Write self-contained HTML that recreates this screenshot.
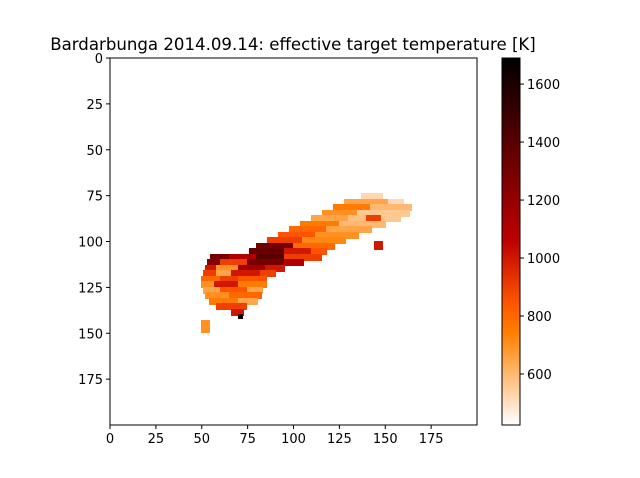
<!DOCTYPE html>
<html><head><meta charset="utf-8"><style>
body{margin:0;background:#fff}
svg{display:block;font-family:"DejaVu Sans","Liberation Sans",sans-serif}
</style></head><body>
<svg id="chart" width="640" height="478" viewBox="0 0 640 478">
<text x="293" y="50" text-anchor="middle" font-size="16.6">Bardarbunga 2014.09.14: effective target temperature [K]</text>
<g id="cells" shape-rendering="crispEdges"></g>
<rect x="110" y="58" width="367" height="367" fill="none" stroke="#000" stroke-width="1"/>
<g id="axes"></g>
<defs><linearGradient id="cbg" x1="0" y1="1" x2="0" y2="0"></linearGradient></defs>
<rect x="502" y="58" width="18" height="367" fill="url(#cbg)" stroke="#000" stroke-width="1"/>
<g id="cbaxis"></g>
</svg>
<script>
// bands: [rowStart,rowEnd,colStart,colEnd,temperatureK]
const bandRows=[[74,77],[77,80],[77,80],[80,83],[80,83],[83,86],[83,86],[86,89],[86,89],[86,89],[86,89],[89,92],[89,92],[92,95],[92,95],[95,98],[95,98],[98,101],[98,101],[100,104],[101,104],[101,104],[104,107],[104,107],[104,107],[107,110],[107,110],[107,110],[107,110],[110,113],[110,113],[110,113],[110,113],[113,116],[113,116],[113,116],[113,116],[116,119],[116,119],[116,119],[116,119],[119,122],[119,122],[119,122],[122,125],[122,125],[122,125],[125,128],[125,128],[125,128],[128,131],[128,131],[131,134],[131,134],[134,137],[137,140],[140,142],[143,149]];
const bandCols=[[137,148],[128,152],[152,160],[122,142],[142,164],[116,135],[135,163],[110,130],[130,140],[140,148],[148,158],[104,125],[125,150],[98,118],[118,142],[92,112],[112,135],[86,105],[105,128],[144,148],[80,100],[100,122],[76,95],[95,110],[110,118],[55,65],[65,80],[80,95],[95,115],[53,60],[60,75],[75,95],[95,105],[52,58],[58,70],[70,85],[85,95],[51,58],[58,66],[66,82],[82,90],[50,60],[60,70],[70,85],[50,57],[57,70],[70,85],[51,60],[60,75],[75,83],[52,65],[65,82],[54,70],[70,80],[58,74],[66,72],[70,72],[50,54]];
const bandTemps=[520,650,520,750,600,700,560,650,580,900,560,750,600,800,650,850,700,900,720,1000,1300,800,1350,1000,850,1300,1100,1400,900,1250,900,1300,1100,1000,700,1150,1000,900,650,1000,900,800,900,850,700,1000,750,650,850,650,700,800,750,650,900,1000,1600,700];
const xTicks=[0,25,50,75,100,125,150,175];
const yTicks=[0,25,50,75,100,125,150,175];
const cbTicks=[600,800,1000,1200,1400,1600];
const vmin=424,vmax=1690;
const NS="http://www.w3.org/2000/svg";
const X0=110,Y0=58,S=367/200;
const sx=c=>X0+c*S, sy=r=>Y0+r*S;
const cy=v=>425-(v-vmin)/(vmax-vmin)*367;
function cmap(v){let t=1-(v-vmin)/(vmax-vmin);t=Math.max(0,Math.min(1,t));
 const r=Math.min(1,1.5*t),g=Math.max(0,Math.min(1,2*t-1)),b=Math.max(0,Math.min(1,4*t-3));
 return `rgb(${Math.round(r*255)},${Math.round(g*255)},${Math.round(b*255)})`;}
const cells=document.getElementById('cells');
bandTemps.forEach((v,i)=>{const [r0,r1]=bandRows[i],[c0,c1]=bandCols[i];
 const e=document.createElementNS(NS,'rect');
 e.setAttribute('x',Math.floor(sx(c0)));e.setAttribute('y',Math.floor(sy(r0)));
 e.setAttribute('width',Math.ceil((c1-c0)*S)+1);e.setAttribute('height',Math.ceil((r1-r0)*S)+1);
 e.setAttribute('fill',cmap(v));
 
 
 cells.appendChild(e);});
const ax=document.getElementById('axes');
function line(g,x1,y1,x2,y2){const l=document.createElementNS(NS,'line');l.setAttribute('x1',x1);l.setAttribute('y1',y1);l.setAttribute('x2',x2);l.setAttribute('y2',y2);l.setAttribute('stroke','#000');g.appendChild(l);return l;}
function text(g,x,y,s,anchor){const t=document.createElementNS(NS,'text');t.setAttribute('x',x);t.setAttribute('y',y);t.setAttribute('font-size','13');t.setAttribute('text-anchor',anchor);t.textContent=s;g.appendChild(t);return t;}
xTicks.forEach(v=>{const x=sx(v+0.5)-0.9;line(ax,x,425,x,429);
 const t=text(ax,x,443,String(v),'middle');
 
 });
yTicks.forEach(v=>{const y=sy(v+0.5)-0.9;line(ax,106,y,110,y);
 const t=text(ax,103,y+5,String(v),'end');
 
 });
const grad=document.getElementById('cbg');
for(let i=0;i<=40;i++){const v=vmin+(vmax-vmin)*i/40;const s=document.createElementNS(NS,'stop');s.setAttribute('offset',i/40);s.setAttribute('stop-color',cmap(v));grad.appendChild(s);}
const cb=document.getElementById('cbaxis');
cbTicks.forEach(v=>{const y=cy(v);line(cb,520,y,524,y);
 const t=text(cb,527,y+5,String(v),'start');
 
 });
</script>
</body></html>
